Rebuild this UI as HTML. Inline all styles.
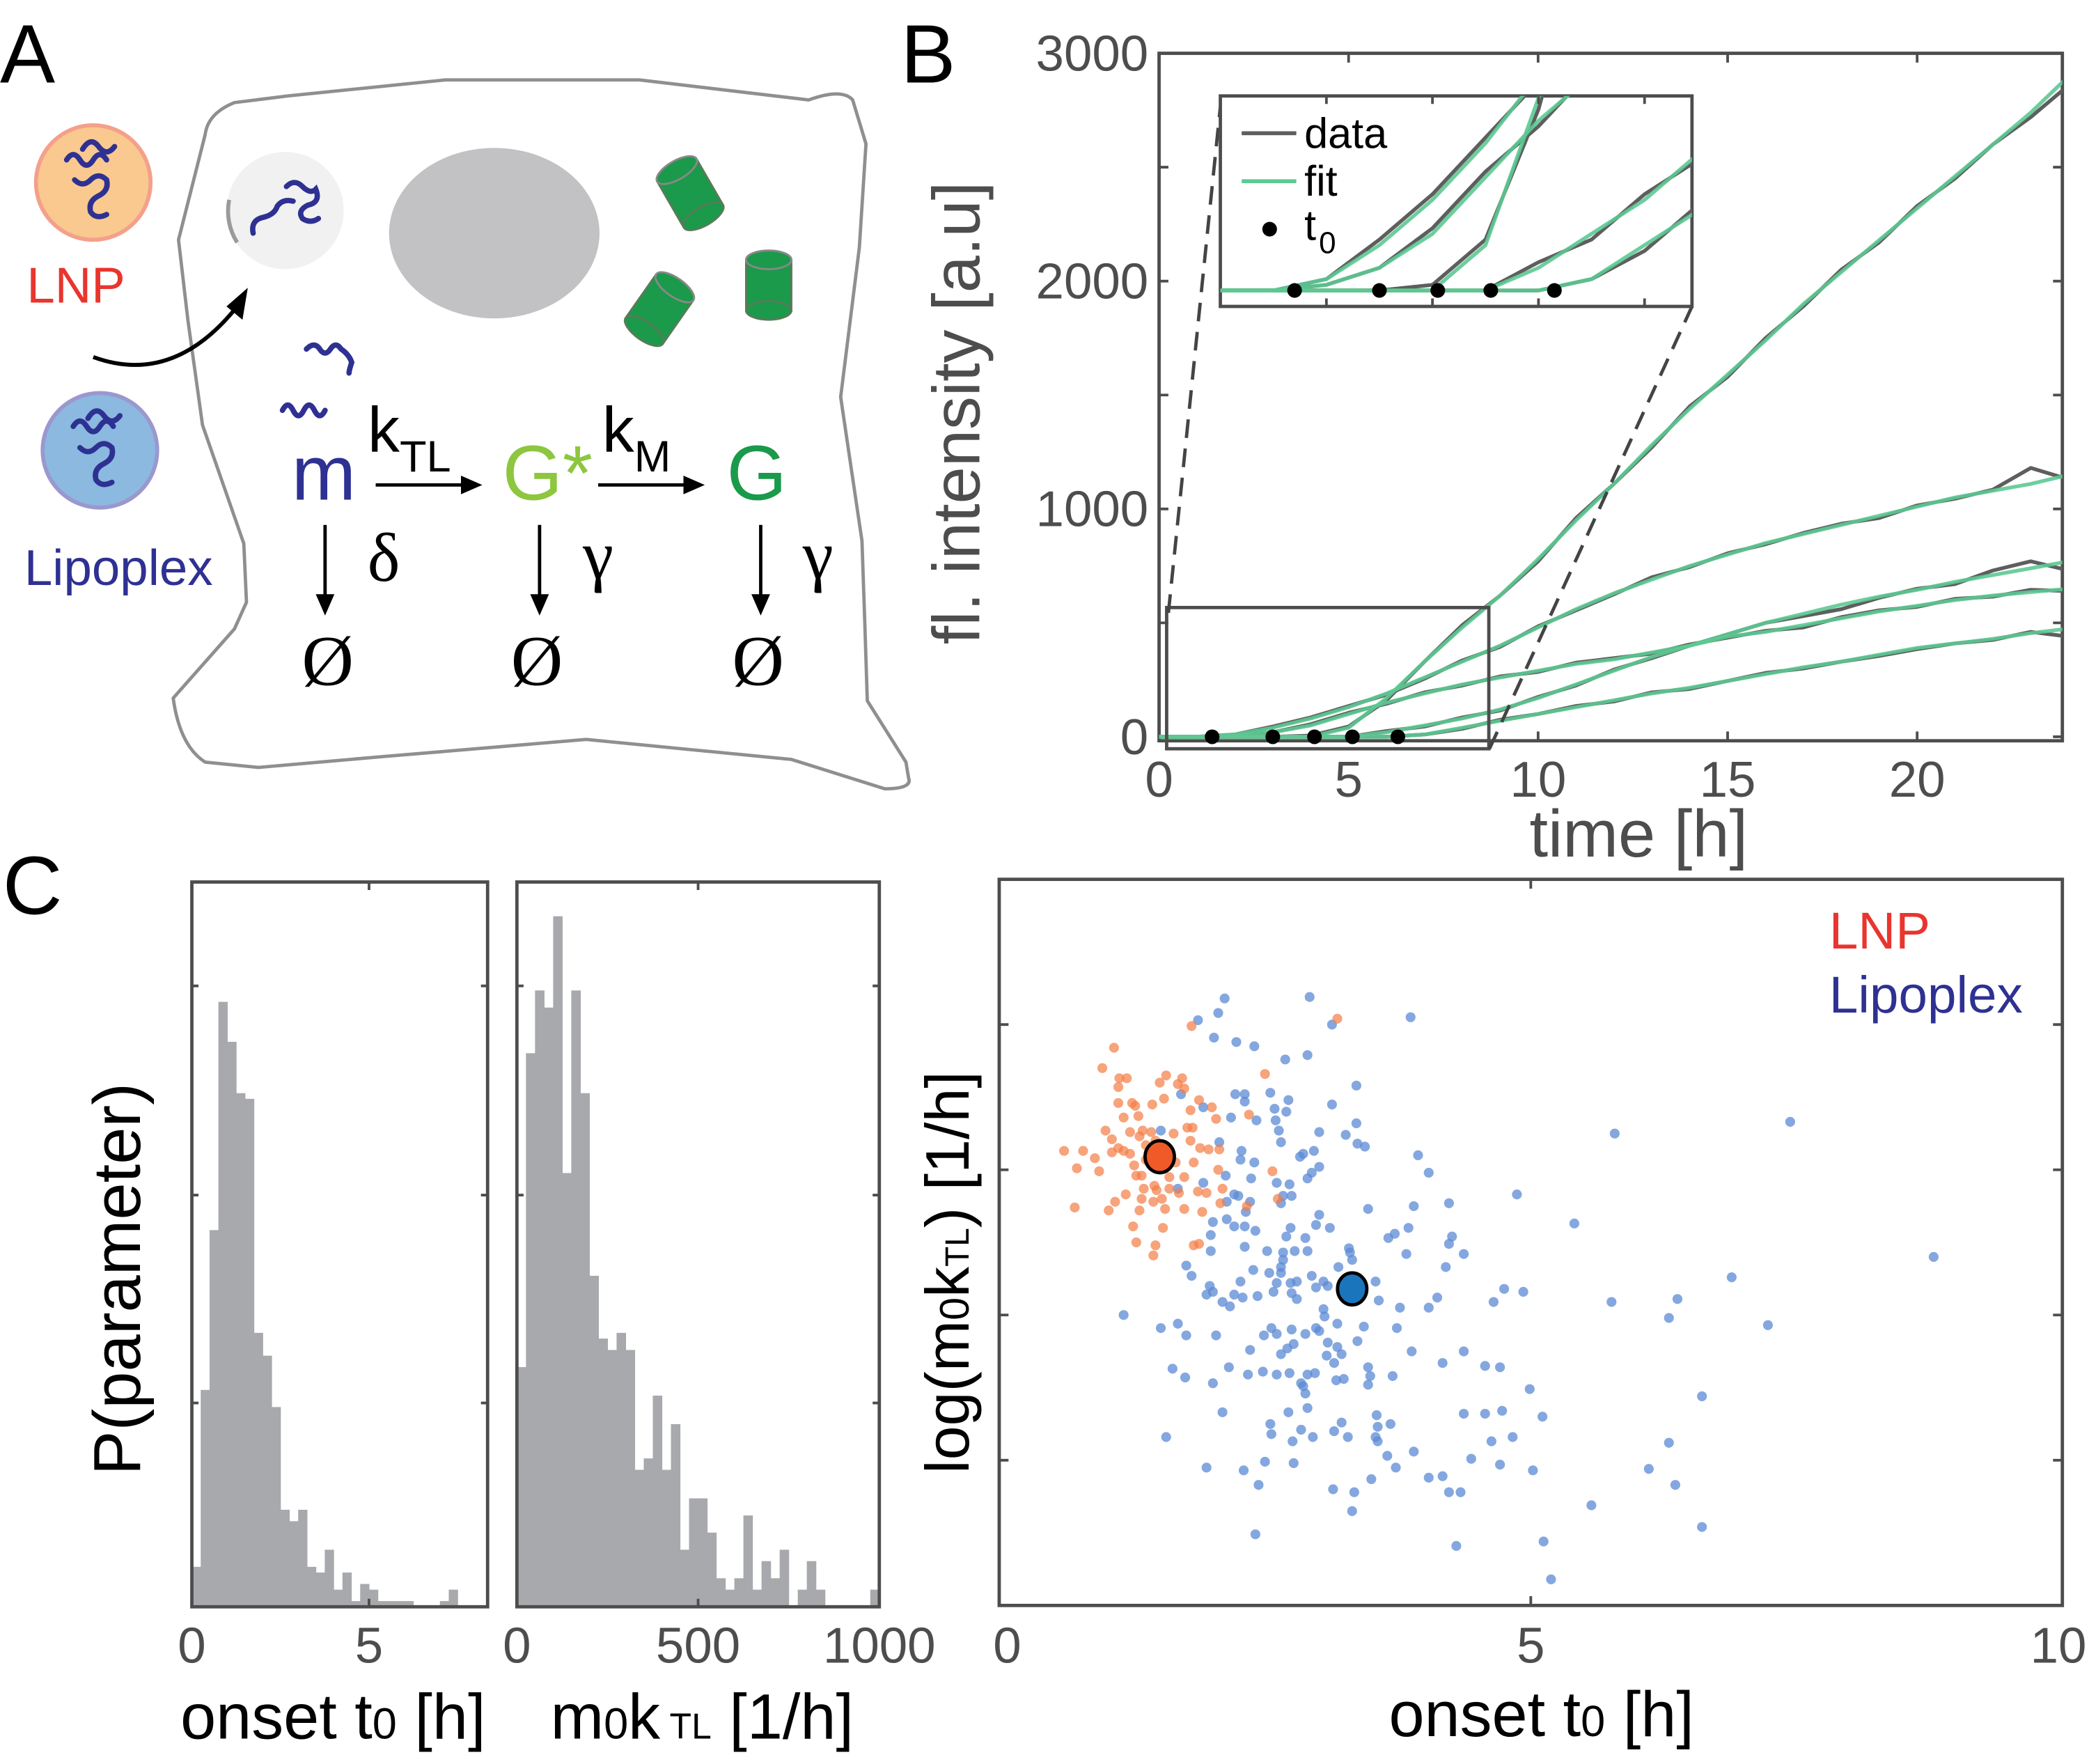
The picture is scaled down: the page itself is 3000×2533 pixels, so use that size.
<!DOCTYPE html>
<html><head><meta charset="utf-8"><style>
html,body{margin:0;padding:0;background:#fff;}
svg{display:block;}
text{font-family:"Liberation Sans",sans-serif;}
.serif{font-family:"Liberation Serif",serif;}
</style></head><body>
<svg id="fig" width="3000" height="2533" viewBox="0 0 1568 1324" preserveAspectRatio="none" xmlns="http://www.w3.org/2000/svg">
<defs>
<clipPath id="clipB"><rect x="870" y="40" width="678" height="516"/></clipPath>
<clipPath id="clipI"><rect x="916" y="72" width="354" height="158"/></clipPath>
</defs>
<text x="0" y="62" font-size="62">A</text>
<text x="676" y="62" font-size="62">B</text>
<text x="2" y="686" font-size="62">C</text>

<g>
<path fill="none" stroke="#8f8f91" stroke-width="2.5" stroke-linejoin="round"
 d="M154,101 L134,180 L141,240 L152,319 L183,408 L185,452 L176,472 L130,524 Q135,560 154,572 L194,576 L286,568 L440,555 L594,570 L664,592 Q685,592 682,584 L680,572 L651,526 L649,464 L647,406 L631,298 L645,186 L650,108 L640,75 Q632,66 607,75 L480,60 L334,60 L216,72 L176,77 Q156,85 154,101 Z"/>
<circle cx="70" cy="137" r="43" fill="#f9c98f" stroke="#f4a08a" stroke-width="3"/>
<circle cx="75" cy="338" r="43" fill="#8bb9df" stroke="#9b97cf" stroke-width="3"/>
<path fill="none" stroke="#2e3192" stroke-width="4" stroke-linecap="round" d="M50,120 q5,-8 10,0 q5,8 10,0 q5,-8 10,0 M56,135 q6,6 12,0 q6,-6 12,0 q2,8 -6,12 q-8,4 -6,12 q4,6 12,2 M62,112 q6,-10 12,-2 q6,8 12,0"/>
<path fill="none" stroke="#2e3192" stroke-width="4" stroke-linecap="round" d="M55,320 q5,-8 10,0 q5,8 10,0 q5,-8 10,0 M60,336 q6,6 12,0 q6,-6 12,0 q2,8 -6,12 q-8,4 -6,12 q4,6 12,2 M66,314 q6,-10 12,-2 q6,8 12,0"/>
<text x="57" y="227" font-size="38" fill="#e8352e" text-anchor="middle">LNP</text>
<text x="89" y="439" font-size="38" fill="#2e3192" text-anchor="middle">Lipoplex</text>
<path fill="none" stroke="#000" stroke-width="3" d="M70,268 Q130,290 178,230"/>
<polygon points="186,216 182,240 170,230" fill="#000"/>
<circle cx="214" cy="158" r="44" fill="#f1f1f1"/>
<path d="M172,150 A44,44 0 0,0 178,182" fill="none" stroke="#9a9a9a" stroke-width="3"/>
<path fill="none" stroke="#2e3192" stroke-width="4" stroke-linecap="round" d="M190,175 q-2,-10 8,-12 q8,-2 10,-8 q4,-6 12,-4 M215,140 q6,-6 12,0 q6,6 10,2 q4,10 -6,12 q-8,4 -4,10 q6,4 12,0"/>
<ellipse cx="371" cy="175" rx="79" ry="64" fill="#c2c2c4"/>
<g transform="translate(518,145) rotate(-30)"><rect x="-17" y="-20" width="34" height="40" fill="#1a9a4a" stroke="#5a7a5a" stroke-width="1.5"/><ellipse cx="0" cy="20" rx="17" ry="7" fill="#1a9a4a" stroke="#5a7a5a" stroke-width="1.5"/><ellipse cx="0" cy="-20" rx="17" ry="7" fill="#1a9a4a" stroke="#888" stroke-width="1.5"/></g>
<g transform="translate(577,213)"><rect x="-17" y="-18" width="34" height="38" fill="#1a9a4a" stroke="#5a7a5a" stroke-width="1.5"/><ellipse cx="0" cy="20" rx="17" ry="7" fill="#1a9a4a" stroke="#5a7a5a" stroke-width="1.5"/><ellipse cx="0" cy="-18" rx="17" ry="7" fill="#1a9a4a" stroke="#888" stroke-width="1.5"/></g>
<g transform="translate(495,232) rotate(35)"><rect x="-17" y="-20" width="34" height="40" fill="#1a9a4a" stroke="#5a7a5a" stroke-width="1.5"/><ellipse cx="0" cy="20" rx="17" ry="7" fill="#1a9a4a" stroke="#5a7a5a" stroke-width="1.5"/><ellipse cx="0" cy="-20" rx="17" ry="7" fill="#1a9a4a" stroke="#888" stroke-width="1.5"/></g>
<path fill="none" stroke="#2e3192" stroke-width="4" stroke-linecap="round" d="M230,262 q6,-6 10,0 q4,6 8,0 q4,-6 8,0 q6,4 8,10 q-2,6 -2,8"/>
<path fill="none" stroke="#2e3192" stroke-width="4" stroke-linecap="round" d="M212,308 q4,-8 8,0 q4,8 8,0 q4,-8 8,0 q4,8 8,0"/>
<text x="243" y="375" font-size="58" fill="#2e3192" text-anchor="middle">m</text>
<text x="276" y="339" font-size="48">k<tspan font-size="33" dy="15">TL</tspan></text>
<text x="411" y="375" font-size="58" fill="#8dc63f" text-anchor="middle">G*</text>
<text x="452" y="339" font-size="48">k<tspan font-size="33" dy="15">M</tspan></text>
<text x="568" y="375" font-size="58" fill="#1a9a4a" text-anchor="middle">G</text>
<g stroke="#000" stroke-width="2.5" fill="#000">
<line x1="282" y1="364" x2="348" y2="364"/><polygon points="362,364 346,357 346,371" stroke="none"/>
<line x1="449" y1="364" x2="515" y2="364"/><polygon points="529,364 513,357 513,371" stroke="none"/>
<line x1="244" y1="394" x2="244" y2="448"/><polygon points="244,462 237,446 251,446" stroke="none"/>
<line x1="405" y1="394" x2="405" y2="448"/><polygon points="405,462 398,446 412,446" stroke="none"/>
<line x1="571" y1="394" x2="571" y2="448"/><polygon points="571,462 564,446 578,446" stroke="none"/>
</g>
<text class="serif" x="288" y="436" font-size="52" text-anchor="middle">δ</text>
<text class="serif" x="449" y="434" font-size="52" text-anchor="middle">γ</text>
<text class="serif" x="614" y="434" font-size="52" text-anchor="middle">γ</text>
<text class="serif" x="246" y="514" font-size="54" text-anchor="middle">Ø</text>
<text class="serif" x="403" y="514" font-size="54" text-anchor="middle">Ø</text>
<text class="serif" x="569" y="514" font-size="54" text-anchor="middle">Ø</text>
</g>

<g id="panelB"></g>
<g id="panelC"></g>
</svg>
<script>
// ---------- Panel B data ----------
const times = [0,1,2,3,4,5,6,7,8,9,10,11,12,13,14,15,16,17,18,19,20,21,22,23,24];
const fit1 = [0,0,0,0,0,40,170,330,480,620,780,950,1110,1280,1440,1590,1740,1900,2040,2180,2320,2460,2600,2740,2900];
const fit2 = [0,0,10,40,80,130,190,260,330,400,480,560,630,690,750,800,850,890,930,970,1010,1050,1080,1110,1150];
const fit3 = [0,0,5,20,50,100,150,190,230,260,290,320,340,370,400,440,460,490,520,550,575,600,620,635,650];
const fit4 = [0,0,0,0,0,0,20,50,80,120,170,230,290,350,400,450,500,540,580,615,645,680,710,740,770];
const fit5 = [0,0,0,0,0,0,0,10,40,70,100,130,160,190,215,245,275,305,330,360,390,410,430,455,475];
const data1 = [0,0,0,0,5,45,160,330,490,620,770,960,1110,1270,1450,1580,1750,1890,2050,2170,2330,2450,2600,2720,2860];
const data2 = [0,0,10,45,85,135,185,255,335,395,485,555,625,700,745,805,845,895,935,960,1015,1045,1085,1180,1130];
const data3 = [0,0,5,20,55,105,145,195,225,265,285,325,345,365,405,435,465,480,525,555,570,605,615,645,640];
const data4 = [0,0,0,0,0,0,25,45,85,115,175,225,295,345,400,450,500,530,560,610,650,670,730,770,730];
const data5 = [0,0,0,0,0,0,0,10,35,75,100,135,155,195,210,245,280,300,330,355,385,410,425,460,440];
const onsets = [1.4,3.0,4.1,5.1,6.3];
const yTickLabelsB = [0,1000,2000,3000];
const xTickLabelsB = [0,5,10,15,20];

// ---------- Panel C data ----------
const onsetBins = [7,38,66,106,99,90,89,48,44,35,17,15,17,7,6,10,3,6,1,4,3,1,1,1,1,0,0,0,1,3,0,0,0];
const rateBins = [42,97,108,105,121,76,108,90,58,47,45,48,45,24,26,37,24,32,10,19,19,13,5,3,5,16,3,8,5,10,0,3,8,3,0,0,0,0,0,3];
const hist1Ticks = [0,5];
const hist2Ticks = [0,500,1000];
const scatterXTicks = [0,5,10];
const lnpX = [1.08,1.81,3.18,0.97,1.13,1.20,1.12,1.57,1.51,1.72,1.68,1.74,2.50,1.12,1.25,1.28,1.44,1.55,1.88,2.00,1.80,1.17,1.31,1.00,1.23,1.35,1.43,1.64,1.77,1.82,2.04,2.35,1.06,1.32,1.38,1.47,1.80,1.12,1.23,1.06,0.61,0.79,0.90,1.17,1.89,1.97,2.07,0.73,0.94,1.27,1.66,1.83,2.06,1.29,1.34,1.60,2.57,1.74,1.19,1.36,1.46,1.48,1.60,1.69,1.87,1.95,2.10,1.09,0.71,1.03,1.34,1.45,1.53,1.32,1.56,1.74,1.91,2.08,2.33,2.62,1.26,1.54,1.29,1.47,1.83,1.88,1.45,1.38];
const lnpY = [3.84,3.99,4.04,3.70,3.63,3.63,3.57,3.65,3.60,3.63,3.59,3.56,3.66,3.46,3.46,3.44,3.45,3.49,3.48,3.43,3.41,3.36,3.37,3.27,3.26,3.27,3.26,3.25,3.29,3.29,3.35,3.38,3.21,3.23,3.17,3.20,3.20,3.15,3.11,3.12,3.13,3.13,3.08,3.13,3.15,3.14,3.14,3.01,2.99,3.03,3.05,3.05,3.00,2.96,2.96,2.95,2.99,2.95,2.83,2.87,2.89,2.86,2.87,2.84,2.85,2.84,2.87,2.78,2.74,2.72,2.80,2.78,2.80,2.72,2.73,2.73,2.71,2.77,2.75,2.80,2.61,2.60,2.50,2.48,2.48,2.49,2.41,3.07];
const lipoX = [2.12,2.92,2.06,1.87,3.13,3.87,2.02,2.23,2.40,2.69,2.90,3.36,1.71,2.22,2.31,2.55,2.72,3.13,1.92,2.31,2.59,2.70,2.18,2.42,2.60,3.36,2.63,3.01,3.26,1.52,2.07,2.65,3.37,3.44,2.28,2.96,2.86,2.83,3.94,2.27,2.40,3.01,2.94,4.04,2.90,2.13,2.37,1.92,2.61,2.73,1.68,2.21,2.25,2.67,2.75,2.14,2.36,2.65,2.32,3.47,3.90,4.23,4.87,3.01,5.41,2.01,2.14,2.21,2.31,2.41,2.74,2.98,3.11,1.99,2.70,2.88,3.66,3.72,3.85,4.26,4.23,2.31,1.99,2.52,2.67,2.78,2.90,3.29,3.30,3.32,3.83,4.37,1.76,2.67,2.65,3.19,1.81,2.39,2.54,2.65,2.94,3.05,4.20,2.27,2.61,2.74,2.80,2.98,3.09,3.54,1.98,2.01,1.95,2.21,2.29,2.43,2.58,2.75,2.80,2.10,2.17,3.57,3.77,4.04,4.12,4.65,4.75,4.93,5.76,6.38,6.89,8.79,7.44,5.79,1.17,3.05,3.06,6.30,7.23,1.68,1.52,1.76,2.04,2.49,2.56,2.61,2.75,2.98,3.18,3.43,3.74,2.88,3.01,3.09,3.37,2.36,2.71,2.77,3.18,4.37,3.88,2.65,3.08,3.22,3.15,1.63,2.16,3.47,4.17,4.57,4.71,1.75,2.01,2.34,2.48,2.61,2.73,2.90,2.97,3.17,3.24,3.49,3.70,2.84,2.86,3.47,2.88,4.99,6.61,2.10,2.72,2.90,3.55,4.37,4.57,4.73,5.11,2.55,3.22,3.56,3.68,2.56,2.84,3.15,3.28,1.57,2.95,2.76,3.54,3.56,4.63,4.83,6.30,3.65,3.90,4.44,2.50,1.95,2.30,2.77,3.73,4.71,5.02,6.11,2.44,3.50,4.04,4.17,3.14,3.34,4.23,4.34,6.36,5.57,3.32,6.61,2.41,4.30,5.12,5.19];
const lipoY = [4.18,4.19,4.08,4.03,4.00,4.05,3.91,3.88,3.85,3.76,3.79,3.58,3.52,3.52,3.52,3.53,3.48,3.45,3.43,3.47,3.42,3.40,3.36,3.34,3.34,3.32,3.27,3.26,3.24,3.27,3.19,3.19,3.18,3.16,3.13,3.13,3.11,3.09,3.10,3.07,3.05,3.02,2.98,2.98,2.94,2.96,2.94,2.91,2.91,2.90,2.87,2.83,2.82,2.82,2.82,2.78,2.78,2.77,2.71,2.73,2.75,2.77,2.83,2.69,2.63,2.64,2.66,2.61,2.61,2.58,2.60,2.62,2.60,2.55,2.54,2.53,2.53,2.56,2.60,2.54,2.49,2.47,2.44,2.44,2.43,2.44,2.44,2.46,2.43,2.38,2.42,2.42,2.34,2.38,2.33,2.33,2.27,2.31,2.29,2.29,2.27,2.23,2.33,2.23,2.22,2.22,2.23,2.19,2.20,2.23,2.20,2.16,2.14,2.14,2.12,2.13,2.16,2.15,2.11,2.09,2.06,2.10,2.05,2.05,2.12,2.09,2.18,2.16,2.09,2.11,2.26,2.40,3.33,3.25,2.00,2.04,1.99,1.98,1.93,1.94,1.91,1.86,1.86,1.86,1.91,1.87,1.90,1.91,1.94,1.92,1.91,1.87,1.89,1.81,1.82,1.76,1.77,1.80,1.78,1.75,1.75,1.73,1.72,1.73,1.67,1.63,1.64,1.64,1.67,1.65,1.64,1.57,1.53,1.59,1.61,1.59,1.60,1.59,1.60,1.55,1.56,1.58,1.58,1.53,1.51,1.52,1.46,1.49,1.44,1.33,1.33,1.36,1.31,1.32,1.32,1.34,1.30,1.25,1.26,1.23,1.25,1.18,1.21,1.20,1.16,1.16,1.16,1.13,1.16,1.13,1.13,1.16,1.12,1.03,1.06,1.01,0.99,0.95,0.93,0.98,0.95,0.97,0.93,0.94,0.83,0.87,0.88,0.89,0.80,0.78,0.78,0.78,0.83,0.69,0.65,0.54,0.49,0.41,0.44,0.18];
const lnpMean = [1.51,3.09];
const lipoMean = [3.32,2.18];

const NS = "http://www.w3.org/2000/svg";
function mk(parent, tag, attrs, txt){
  const el = document.createElementNS(NS, tag);
  for (const k in attrs) el.setAttribute(k, attrs[k]);
  if (txt !== undefined) el.textContent = txt;
  parent.appendChild(el);
  return el;
}
const AX = "#4d4d4d";

// ===== Panel B =====
const gB = document.getElementById('panelB');
const bx = t => 870 + t * 28.45;
const by = v => 553 - v * 0.171;
const ix = t => 916 + t * 39.8;
const iy = v => 218 - v * 0.85;

let el;
el = mk(gB, 'rect', {x:870,y:40,width:678,height:516,fill:'none',stroke:AX,'stroke-width':2.5});


for (let v = 0; v <= 3000; v += 500) {
  el = mk(gB, 'path', {d:`M870,${by(v)}h7M1548,${by(v)}h-7`, stroke:AX, 'stroke-width':2});
  
  
}
yTickLabelsB.forEach(v => {
  el = mk(gB, 'text', {x:862, y:by(v)+13, 'font-size':38, fill:AX, 'text-anchor':'end'}, String(v));
  
  
});
xTickLabelsB.forEach(t => {
  el = mk(gB, 'path', {d:`M${bx(t)},556v-7M${bx(t)},40v7`, stroke:AX, 'stroke-width':2});
  
  
  el = mk(gB, 'text', {x:bx(t), y:598, 'font-size':38, fill:AX, 'text-anchor':'middle'}, String(t));
  
  
});
el = mk(gB, 'text', {x:1230, y:643, 'font-size':50, fill:AX, 'text-anchor':'middle'}, 'time [h]');


el = mk(gB, 'text', {x:0, y:0, 'font-size':50, fill:AX, 'text-anchor':'middle', transform:'translate(735,310) rotate(-90)'}, 'fl. intensity [a.u]');



const dataSeries = [data1,data2,data3,data4,data5];
const fitSeries = [fit1,fit2,fit3,fit4,fit5];
function poly(arr, fx, fy){ return arr.map((v,i)=>`${fx(times[i]).toFixed(1)},${fy(v).toFixed(1)}`).join(' '); }
const curvesB = mk(gB, 'g', {'clip-path':'url(#clipB)'});


dataSeries.forEach((s,i) => {
  el = mk(curvesB, 'polyline', {points:poly(s,bx,by), fill:'none', stroke:'#5e5e5e', 'stroke-width':2.8, 'stroke-linejoin':'round'});
  
  
});
fitSeries.forEach((s,i) => {
  el = mk(curvesB, 'polyline', {points:poly(s,bx,by), fill:'none', stroke:'#5cc992', 'stroke-width':2.8, 'stroke-opacity':0.9, 'stroke-linejoin':'round'});
  
  
});
onsets.forEach(t => {
  el = mk(gB, 'circle', {cx:bx(t), cy:by(0), r:5.5, fill:'#000'});
  
  
});
el = mk(gB, 'rect', {x:bx(0.2), y:456, width:bx(8.7)-bx(0.2), height:106, fill:'none', stroke:AX, 'stroke-width':2.5});


el = mk(gB, 'path', {d:'M877,460 L916,80 M1118,562 L1270,230', stroke:'#444', 'stroke-width':2.5, 'stroke-dasharray':'14,8', fill:'none'});


el = mk(gB, 'rect', {x:916, y:72, width:354, height:158, fill:'#fff', stroke:AX, 'stroke-width':2.5});


const curvesI = mk(gB, 'g', {'clip-path':'url(#clipI)'});


dataSeries.forEach((s,i) => {
  el = mk(curvesI, 'polyline', {points:poly(s,ix,iy), fill:'none', stroke:'#5e5e5e', 'stroke-width':2.8});
  
  
});
fitSeries.forEach((s,i) => {
  el = mk(curvesI, 'polyline', {points:poly(s,ix,iy), fill:'none', stroke:'#5cc992', 'stroke-width':2.8, 'stroke-opacity':0.9});
  
  
});
onsets.forEach(t => {
  el = mk(gB, 'circle', {cx:ix(t), cy:iy(0), r:5.5, fill:'#000'});
  
  
});
[2,4,6,8].forEach(t => {
  el = mk(gB, 'path', {d:`M${ix(t)},230v-6M${ix(t)},72v6`, stroke:AX, 'stroke-width':2});
  
  
});
const leg = mk(gB, 'g', {});


el = mk(leg, 'line', {x1:932, y1:100, x2:973, y2:100, stroke:'#5e5e5e', 'stroke-width':3});


el = mk(leg, 'text', {x:979, y:111, 'font-size':32}, 'data');


el = mk(leg, 'line', {x1:932, y1:136, x2:973, y2:136, stroke:'#5cc992', 'stroke-width':3});


el = mk(leg, 'text', {x:979, y:147, 'font-size':32}, 'fit');


el = mk(leg, 'circle', {cx:953, cy:172, r:5.5, fill:'#000'});


el = mk(leg, 'text', {x:979, y:180, 'font-size':32}, 't');


el = mk(leg, 'text', {x:990, y:190, 'font-size':23}, '0');



// ===== Panel C =====
const gC = document.getElementById('panelC');
const HB = 1206, HT = 662, cScale = 544/127;
function hist(bins, binW, x0, pxPerUnit, name){
  bins.forEach((c,i) => {
    if (c <= 0) return;
    const h = c * cScale;
    el = mk(gC, 'rect', {x:(x0 + i*binW*pxPerUnit).toFixed(2), y:(HB-h).toFixed(2), width:(binW*pxPerUnit+0.3).toFixed(2), height:h.toFixed(2), fill:'#a7a9ac'});
    
    
  });
}
const h1x = v => 144 + v * 26.6;
hist(onsetBins, 0.25, 144, 26.6, 'onset-hist');
el = mk(gC, 'rect', {x:144, y:HT, width:222, height:HB-HT, fill:'none', stroke:AX, 'stroke-width':2.5});


hist1Ticks.forEach(v => {
  el = mk(gC, 'path', {d:`M${h1x(v)},${HT}v6M${h1x(v)},${HB}v-6`, stroke:AX, 'stroke-width':2});
  
  
  el = mk(gC, 'text', {x:h1x(v), y:1248, 'font-size':38, fill:AX, 'text-anchor':'middle'}, String(v));
  
  
});
[740,897,1053].forEach(y => {
  el = mk(gC, 'path', {d:`M144,${y}h5M366,${y}h-5M388,${y}h5M660,${y}h-5`, stroke:AX, 'stroke-width':2});
  
  
});
el = mk(gC, 'text', {x:250, y:1305, 'font-size':48, 'text-anchor':'middle'}, '');


el.innerHTML = 'onset t<tspan font-size="33">0</tspan> [h]';
el = mk(gC, 'text', {x:0, y:0, 'font-size':50, 'text-anchor':'middle', transform:'translate(105,960) rotate(-90)'}, 'P(parameter)');


const h2x = v => 388 + v * 0.272;
hist(rateBins, 25, 388, 0.272, 'rate-hist');
el = mk(gC, 'rect', {x:388, y:HT, width:272, height:HB-HT, fill:'none', stroke:AX, 'stroke-width':2.5});


hist2Ticks.forEach(v => {
  el = mk(gC, 'path', {d:`M${h2x(v)},${HT}v6M${h2x(v)},${HB}v-6`, stroke:AX, 'stroke-width':2});
  
  
  el = mk(gC, 'text', {x:Math.min(h2x(v), 664), y:1248, 'font-size':38, fill:AX, 'text-anchor':'middle'}, String(v));
  
  
});
el = mk(gC, 'text', {x:527, y:1305, 'font-size':48, 'text-anchor':'middle'}, '');


el.innerHTML = 'm<tspan font-size="33">0</tspan>k<tspan font-size="27"> TL</tspan> [1/h]';

const sx = v => 750 + v * 79.8;
const sy = v => 1205 - v * 109;
el = mk(gC, 'rect', {x:750, y:660, width:798, height:545, fill:'none', stroke:AX, 'stroke-width':2.5});


[1,2,3,4].forEach(v => {
  el = mk(gC, 'path', {d:`M750,${sy(v)}h7M1548,${sy(v)}h-7`, stroke:AX, 'stroke-width':2});
  
  
});
scatterXTicks.forEach(v => {
  el = mk(gC, 'path', {d:`M${sx(v)},1205v-7M${sx(v)},660v7`, stroke:AX, 'stroke-width':2});
  
  
  el = mk(gC, 'text', {x:Math.max(756, Math.min(sx(v), 1545)), y:1248, 'font-size':38, fill:AX, 'text-anchor':'middle'}, String(v));
  
  
});
lipoX.forEach((x,i) => {
  el = mk(gC, 'circle', {cx:sx(x).toFixed(1), cy:sy(lipoY[i]).toFixed(1), r:3.7, fill:'#5b8ad4', 'fill-opacity':0.75});
  
  
});
lnpX.forEach((x,i) => {
  el = mk(gC, 'circle', {cx:sx(x).toFixed(1), cy:sy(lnpY[i]).toFixed(1), r:3.7, fill:'#f47c45', 'fill-opacity':0.7});
  
  
});
el = mk(gC, 'ellipse', {cx:sx(lnpMean[0]), cy:sy(lnpMean[1]), rx:11, ry:12, fill:'#f05a28', stroke:'#000', 'stroke-width':2.5});


el = mk(gC, 'ellipse', {cx:sx(lipoMean[0]), cy:sy(lipoMean[1]), rx:11, ry:12, fill:'#1b75bc', stroke:'#000', 'stroke-width':2.5});


el = mk(gC, 'text', {x:1373, y:712, 'font-size':39, fill:'#e8352e'}, 'LNP');


el = mk(gC, 'text', {x:1373, y:760, 'font-size':39, fill:'#2e3192'}, 'Lipoplex');


el = mk(gC, 'text', {x:1157, y:1303, 'font-size':48, 'text-anchor':'middle'}, '');


el.innerHTML = 'onset t<tspan font-size="33">0</tspan> [h]';
el = mk(gC, 'text', {x:0, y:0, 'font-size':46, 'text-anchor':'middle', transform:'translate(727,955) rotate(-90)'}, '');


el.innerHTML = 'log(m<tspan font-size="31">0</tspan>k<tspan font-size="25">TL</tspan>) [1/h]';
</script>
</body></html>
